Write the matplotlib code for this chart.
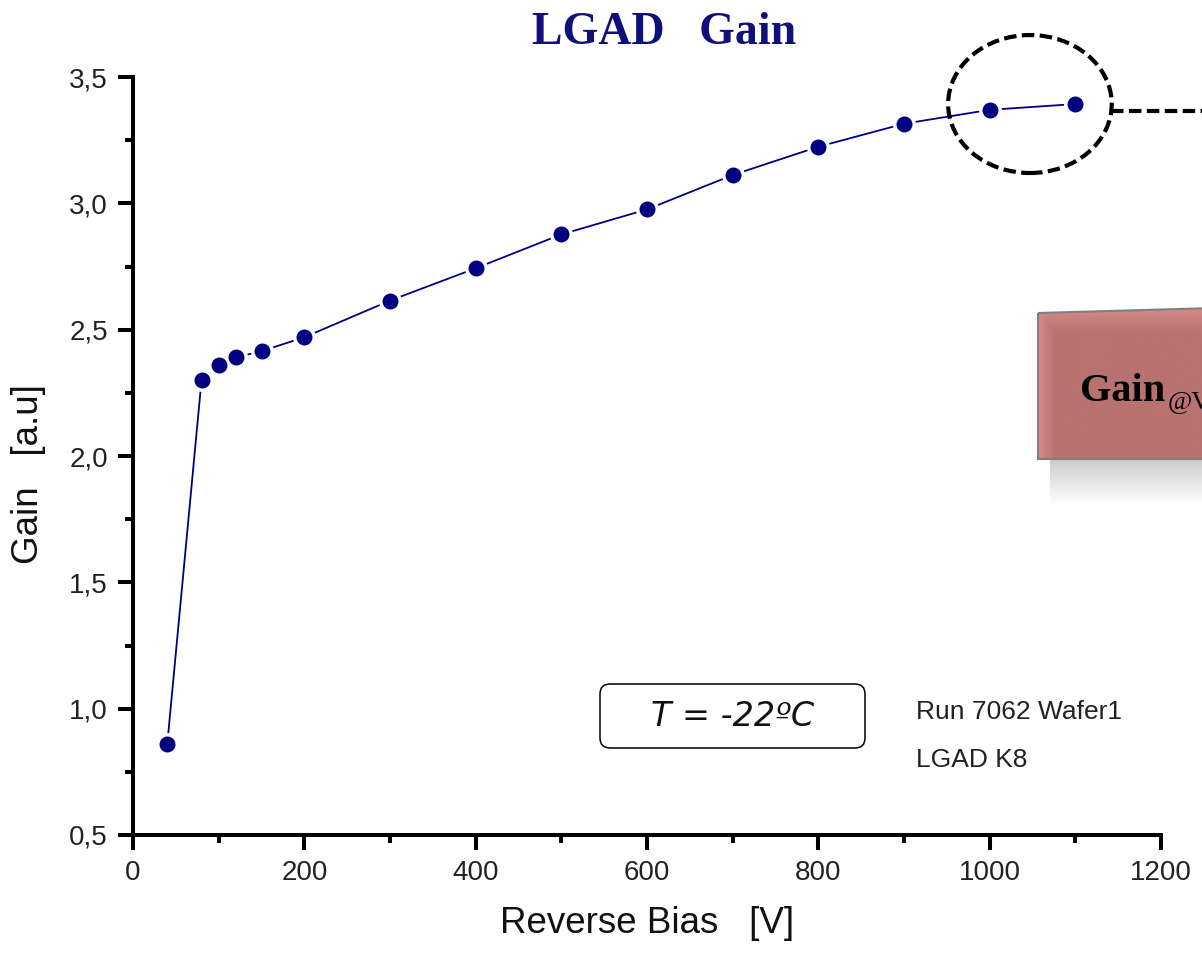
import numpy as np
import matplotlib
matplotlib.use("Agg")
import matplotlib.pyplot as plt
from matplotlib.patches import Ellipse, FancyBboxPatch, Polygon
from matplotlib.ticker import FuncFormatter, MultipleLocator

# measured gain vs reverse bias
bias = [40, 80, 100, 120, 150, 200, 300, 400, 500, 600, 700, 800, 900, 1000, 1100]
gain = [0.86, 2.30, 2.36, 2.39, 2.415, 2.47, 2.615, 2.743, 2.877, 2.976,
        3.112, 3.224, 3.315, 3.37, 3.393]

title = "LGAD   Gain"
xlabel = "Reverse Bias   [V]"
ylabel = "Gain   [a.u]"
temp_label = "T = -22ºC"
info_lines = ["Run 7062 Wafer1", "LGAD K8"]

W, H = 1202, 959
navy = "#000080"

fig = plt.figure(figsize=(W / 100, H / 100), dpi=100)
ax = fig.add_axes([133 / W, 1 - 835 / H, 1028 / W, 758 / H])

ax.plot(bias, gain, color=navy, lw=1.3, zorder=2)
ax.plot(bias, gain, ls="none", marker="o", ms=16.5, mfc="white", mec="none", zorder=3)
ax.plot(bias, gain, ls="none", marker="o", ms=11.5, mfc=navy, mec="none", zorder=4)

ax.set_xlim(0, 1200)
ax.set_ylim(0.5, 3.5)
ax.xaxis.set_major_locator(MultipleLocator(200))
ax.xaxis.set_minor_locator(MultipleLocator(100))
ax.yaxis.set_major_locator(MultipleLocator(0.5))
ax.yaxis.set_minor_locator(MultipleLocator(0.25))
ax.yaxis.set_major_formatter(FuncFormatter(lambda v, p: f"{v:.1f}".replace(".", ",")))

for side in ["top", "right"]:
    ax.spines[side].set_visible(False)
for side in ["left", "bottom"]:
    ax.spines[side].set_linewidth(2.9)

ax.tick_params(which="major", direction="out", length=11, width=2.9,
               labelsize=20, labelcolor="#222222", pad=7)
ax.tick_params(which="minor", direction="out", length=6, width=2.9)
for lab in ax.get_xticklabels() + ax.get_yticklabels():
    lab.set_family("Liberation Sans")

ax.set_xlabel(xlabel, fontsize=26.5, family="Liberation Sans", color="#111111")
ax.set_ylabel(ylabel, fontsize=26.5, family="Liberation Sans", color="#111111")
ax.xaxis.set_label_coords(0.5, -0.094)
ax.yaxis.set_label_coords(-0.085, 0.476)

fig.text(664 / W, 1 - 33 / H, title, ha="center", va="center", fontsize=33,
         family="Liberation Serif", weight="bold", color="#10107a")

# highlight of the last two points
ax.add_patch(Ellipse((1047, 3.393), 191, 0.546, fill=False, ec="black", lw=3,
                     ls=(0, (3, 1.3)), clip_on=False, zorder=5))
ax.plot([1142, 1300], [3.365, 3.365], color="black", lw=3, ls=(0, (3, 1.3)),
        clip_on=False, zorder=5)

# overlay in pixel coordinates for the annotation boxes
ov = fig.add_axes([0, 0, 1, 1], zorder=10)
ov.set_xlim(0, W)
ov.set_ylim(H, 0)
ov.axis("off")

ov.add_patch(FancyBboxPatch((600, 684), 265, 64, boxstyle="round,pad=0,rounding_size=10",
                            fc="white", ec="black", lw=1.1))
ov.text(733, 717, temp_label, ha="center", va="center", fontsize=24,
        family="DejaVu Sans", style="italic", color="#111111")
ov.text(916, 719, info_lines[0], ha="left", va="baseline", fontsize=19,
        family="Liberation Sans", color="#222222")
ov.text(916, 767, info_lines[1], ha="left", va="baseline", fontsize=19,
        family="Liberation Sans", color="#222222")

# shadow under the red box
sh = np.zeros((40, 2, 4))
sh[..., :3] = 0.55
sh[..., 3] = np.linspace(0.45, 0.0, 40)[:, None]
ov.imshow(sh, extent=(1050, 1215, 505, 459), aspect="auto", interpolation="bicubic", zorder=1)

# red box with soft lighter border
gx = np.clip(np.linspace(0, 1, 200) * 10, 0, 1)
gy = np.clip(np.linspace(0, 1, 150) * 6, 0, 1)
shade = np.minimum(gx[None, :], gy[:, None])
base = np.array([184, 114, 112]) / 255
edge = np.array([212, 138, 138]) / 255
img = edge + (base - edge) * shade[..., None]
box = Polygon([(1038, 313), (1215, 308), (1215, 459), (1038, 459)], closed=True,
              fc="none", ec="#7f7f7f", lw=1.5, zorder=3)
im = ov.imshow(img, extent=(1038, 1215, 459, 308), aspect="auto", zorder=2)
ov.add_patch(box)
im.set_clip_path(box)
ov.text(1080, 401, "Gain", ha="left", va="baseline", fontsize=29,
        family="Liberation Serif", weight="bold", color="black", zorder=4)
ov.text(1168, 408, "@V", ha="left", va="baseline", fontsize=19,
        family="Liberation Serif", color="black", zorder=4)

fig.savefig("out.png", dpi=100)
